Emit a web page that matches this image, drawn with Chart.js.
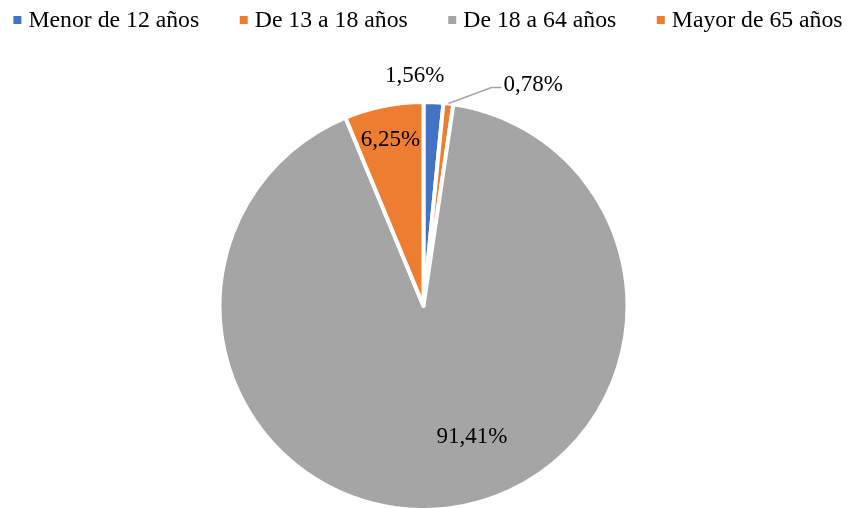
<!DOCTYPE html>
<html>
<head>
<meta charset="utf-8">
<script src="https://cdn.jsdelivr.net/npm/chart.js@4.4.1/dist/chart.umd.min.js"></script>
<style>
  html, body { margin: 0; padding: 0; background: #fff; }
  #wrap { width: 847px; height: 508px; }
</style>
</head>
<body>
<div id="wrap"><canvas id="pieChart" width="847" height="508"></canvas></div>
<script>
// Grupos de edad y porcentajes
const categories = ['Menor de 12 años', 'De 13 a 18 años', 'De 18 a 64 años', 'Mayor de 65 años'];
const values = [1.56, 0.78, 91.41, 6.25];
const colors = ['#4472C4', '#ED7D31', '#A5A5A5', '#ED7D31'];

// Ubicación de las etiquetas (fracción del radio, desplazamiento en px)
const labelDist = [1.13, 1.0, 0.66, 0.83];
const labelShift = [[-20, 0], [0, 0], [32, -3], [0, 0]];
const labelLeader = [false, true, false, false];

const serif = '"Liberation Serif", "Times New Roman", serif';
const fmt = v => v.toFixed(2).replace('.', ',') + '%';

// Leyenda dibujada a mano (estilo Excel: cuadrito pequeño + texto)
const topLegend = {
    id: 'topLegend',
    afterDraw(chart) {
        const ctx = chart.ctx;
        ctx.save();
        ctx.font = '23.75px ' + serif;
        ctx.textBaseline = 'alphabetic';
        ctx.textAlign = 'left';
        const box = 8, gapText = 15, gapItem = 40.5;
        const widths = categories.map(t => ctx.measureText(t).width);
        const total = widths.reduce((a, w) => a + box + (gapText - box) + w, 0) + gapItem * (categories.length - 1);
        let x = 428 - total / 2;
        categories.forEach((t, i) => {
            ctx.fillStyle = colors[i];
            ctx.fillRect(x, 16, box, box);
            ctx.fillStyle = '#000';
            ctx.fillText(t, x + gapText, 27);
            x += gapText + widths[i] + gapItem;
        });
        ctx.restore();
    }
};

const pieLabels = {
    id: 'pieLabels',
    afterDatasetsDraw(chart) {
        const ctx = chart.ctx;
        const arcs = chart.getDatasetMeta(0).data;
        ctx.save();
        ctx.font = '23px ' + serif;
        ctx.fillStyle = '#000';
        ctx.textBaseline = 'middle';
        arcs.forEach((arc, i) => {
            const p = arc.getProps(['x', 'y', 'startAngle', 'endAngle', 'outerRadius'], true);
            const mid = (p.startAngle + p.endAngle) / 2;
            const r = p.outerRadius;
            if (labelLeader[i]) {
                // linea guía hacia la etiqueta
                const sx = p.x + Math.cos(mid) * r;
                const sy = p.y + Math.sin(mid) * r;
                const ex = sx + 43, ey = sy - 16;
                ctx.strokeStyle = '#A6A6A6';
                ctx.lineWidth = 1.5;
                ctx.beginPath();
                ctx.moveTo(sx, sy);
                ctx.lineTo(ex, ey);
                ctx.lineTo(ex + 10, ey);
                ctx.stroke();
                ctx.textAlign = 'left';
                ctx.fillText(fmt(values[i]), ex + 12, ey - 3);
            } else {
                const d = r * labelDist[i];
                ctx.textAlign = 'center';
                ctx.fillText(fmt(values[i]),
                    p.x + Math.cos(mid) * d + labelShift[i][0],
                    p.y + Math.sin(mid) * d + labelShift[i][1]);
            }
        });
        ctx.restore();
    }
};

const ctx = document.getElementById('pieChart').getContext('2d');
const pieChart = new Chart(ctx, {
    type: 'pie',
    data: {
        labels: categories,
        datasets: [{
            data: values,
            backgroundColor: colors,
            borderColor: '#ffffff',
            borderWidth: 4,
            borderJoinStyle: 'round',
            radius: 204
        }]
    },
    options: {
        responsive: false,
        animation: false,
        devicePixelRatio: 1,
        layout: { padding: { top: 104, bottom: 0, left: 0, right: 0 } },
        plugins: {
            tooltip: { enabled: false },
            legend: { display: false }
        }
    },
    plugins: [pieLabels, topLegend]
});
</script>
</body>
</html>
